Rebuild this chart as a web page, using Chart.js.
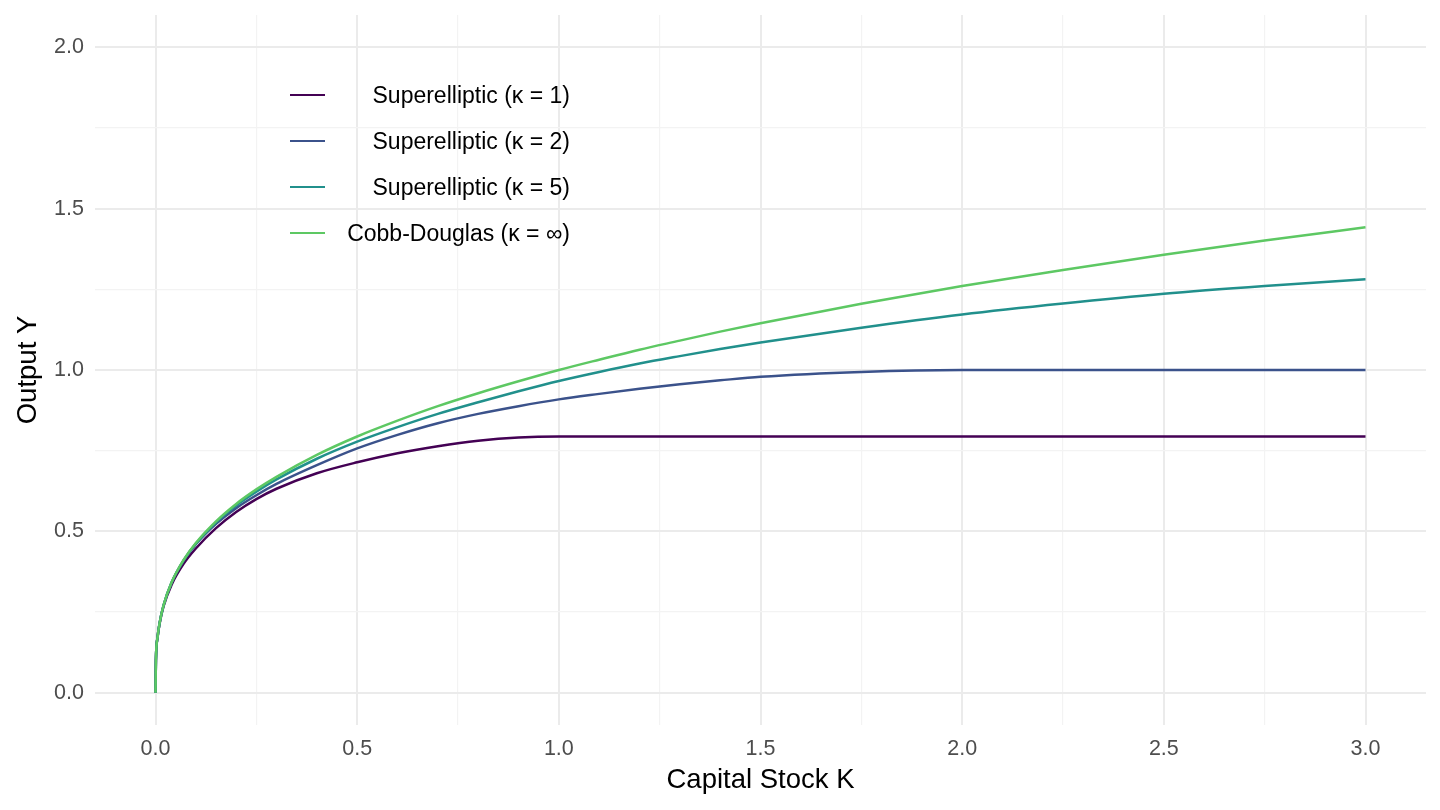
<!DOCTYPE html>
<html lang="en">
<head>
    <meta charset="UTF-8">
    <title>Output vs Capital Stock</title>
    <script src="https://cdn.jsdelivr.net/npm/chart.js"></script>
    <style>
        body {
            margin: 0;
            padding: 0;
            background: #ffffff;
            font-family: "Liberation Sans", Arial, sans-serif;
        }
        #wrap {
            position: relative;
            width: 1440px;
            height: 810px;
        }
        #legend {
            position: absolute;
            left: 290px;
            top: 72px;
            width: 280px;
        }
        .item {
            display: flex;
            align-items: center;
            height: 46px;
        }
        .key {
            width: 35px;
            height: 2.5px;
            flex: none;
        }
        .lab {
            flex: 1;
            text-align: right;
            font-size: 23px;
            color: #000;
            white-space: nowrap;
        }
    </style>
</head>
<body>
<div id="wrap">
    <canvas id="myChart" width="1440" height="810"></canvas>
    <div id="legend"></div>
</div>

<script>
// capital stock grid (x)
var kValues = [0, 0.001, 0.005, 0.01, 0.02, 0.04, 0.07, 0.1, 0.15, 0.2, 0.25, 0.3, 0.4, 0.5, 0.6, 0.7, 0.8, 0.9,
               1.0, 1.1, 1.2, 1.3, 1.4, 1.5, 1.75, 2.0, 2.25, 2.5, 2.75, 3.0];

// output
var kappa1 = [0, 0.100, 0.170, 0.213, 0.268, 0.335, 0.400, 0.447, 0.510, 0.560, 0.600, 0.632, 0.680, 0.714, 0.742, 0.764, 0.781, 0.791,
              0.794, 0.794, 0.794, 0.794, 0.794, 0.794, 0.794, 0.794, 0.794, 0.794, 0.794, 0.794];
var kappa2 = [0, 0.100, 0.171, 0.215, 0.271, 0.341, 0.410, 0.460, 0.523, 0.572, 0.612, 0.647, 0.705, 0.757, 0.799, 0.835, 0.864, 0.888,
              0.909, 0.926, 0.942, 0.956, 0.968, 0.979, 0.994, 1.000, 1.000, 1.000, 1.000, 1.000];
var kappa5 = [0, 0.100, 0.171, 0.215, 0.271, 0.342, 0.411, 0.462, 0.528, 0.580, 0.623, 0.661, 0.725, 0.778, 0.823, 0.864, 0.900, 0.934,
              0.966, 0.994, 1.020, 1.043, 1.065, 1.085, 1.131, 1.172, 1.206, 1.236, 1.260, 1.281];
var cobbDouglas = [0, 0.100, 0.171, 0.215, 0.271, 0.342, 0.412, 0.464, 0.531, 0.585, 0.630, 0.669, 0.737, 0.794, 0.843, 0.888, 0.928, 0.965,
                   1.000, 1.032, 1.063, 1.091, 1.119, 1.145, 1.205, 1.260, 1.310, 1.357, 1.401, 1.442];

var seriesNames = ['Superelliptic (κ = 1)', 'Superelliptic (κ = 2)', 'Superelliptic (κ = 5)', 'Cobb-Douglas (κ = ∞)'];
var seriesData = [kappa1, kappa2, kappa5, cobbDouglas];
var seriesColors = ['#440154', '#3B528B', '#21908C', '#5DC863'];

var xTicks = [0, 0.25, 0.5, 0.75, 1, 1.25, 1.5, 1.75, 2, 2.25, 2.5, 2.75, 3];
var yTicks = [0, 0.25, 0.5, 0.75, 1, 1.25, 1.5, 1.75, 2];

var datasets = seriesNames.map(function (name, i) {
    return {
        label: name,
        data: kValues.map(function (k, j) { return {x: k, y: seriesData[i][j]}; }),
        borderColor: seriesColors[i],
        borderWidth: 2.5,
        pointRadius: 0,
        fill: false,
        cubicInterpolationMode: 'monotone',
        order: seriesNames.length - 1 - i   // later series drawn on top
    };
});

// html legend
var legend = document.getElementById('legend');
seriesNames.forEach(function (name, i) {
    var row = document.createElement('div');
    row.className = 'item';
    row.innerHTML = '<span class="key" style="background:' + seriesColors[i] + '"></span><span class="lab">' + name + '</span>';
    legend.appendChild(row);
});

function isMajor(v) {
    return Math.abs(v * 2 - Math.round(v * 2)) < 1e-6;
}

var gridStyle = {
    drawTicks: false,
    color: function (c) { return isMajor(c.tick.value) ? '#ebebeb' : '#f3f3f3'; },
    lineWidth: function (c) { return isMajor(c.tick.value) ? 2 : 1.2; }
};

var ctx = document.getElementById('myChart').getContext('2d');
var myChart = new Chart(ctx, {
    type: 'line',
    data: {datasets: datasets},
    options: {
        responsive: false,
        animation: false,
        devicePixelRatio: 1,
        layout: {padding: {top: 15, right: 14, left: 0, bottom: 0}},
        plugins: {
            legend: {display: false},
            tooltip: {enabled: false}
        },
        scales: {
            x: {
                type: 'linear',
                min: -0.15,
                max: 3.15,
                afterBuildTicks: function (s) { s.ticks = xTicks.map(function (v) { return {value: v}; }); },
                afterFit: function (s) { s.height = 85; s.paddingLeft = 0; s.paddingRight = 0; },
                border: {display: false},
                grid: gridStyle,
                ticks: {
                    padding: 11,
                    color: '#4d4d4d',
                    font: {family: 'Liberation Sans', size: 21.5},
                    maxRotation: 0,
                    autoSkip: false,
                    callback: function (v) { return isMajor(v) ? v.toFixed(1) : ''; }
                },
                title: {
                    display: true,
                    text: 'Capital Stock K',
                    color: '#000',
                    font: {family: 'Liberation Sans', size: 27.5},
                    padding: {bottom: 13}
                }
            },
            y: {
                min: -0.1,
                max: 2.1,
                afterBuildTicks: function (s) { s.ticks = yTicks.map(function (v) { return {value: v}; }); },
                afterFit: function (s) { s.width = 95; s.paddingTop = 0; s.paddingBottom = 0; },
                border: {display: false},
                grid: gridStyle,
                ticks: {
                    padding: 11,
                    color: '#4d4d4d',
                    font: {family: 'Liberation Sans', size: 21.5},
                    autoSkip: false,
                    callback: function (v) { return isMajor(v) ? v.toFixed(1) : ''; }
                },
                title: {
                    display: true,
                    text: 'Output Y',
                    color: '#000',
                    font: {family: 'Liberation Sans', size: 27.5},
                    padding: {top: 12}
                }
            }
        }
    }
});
</script>
</body>
</html>
